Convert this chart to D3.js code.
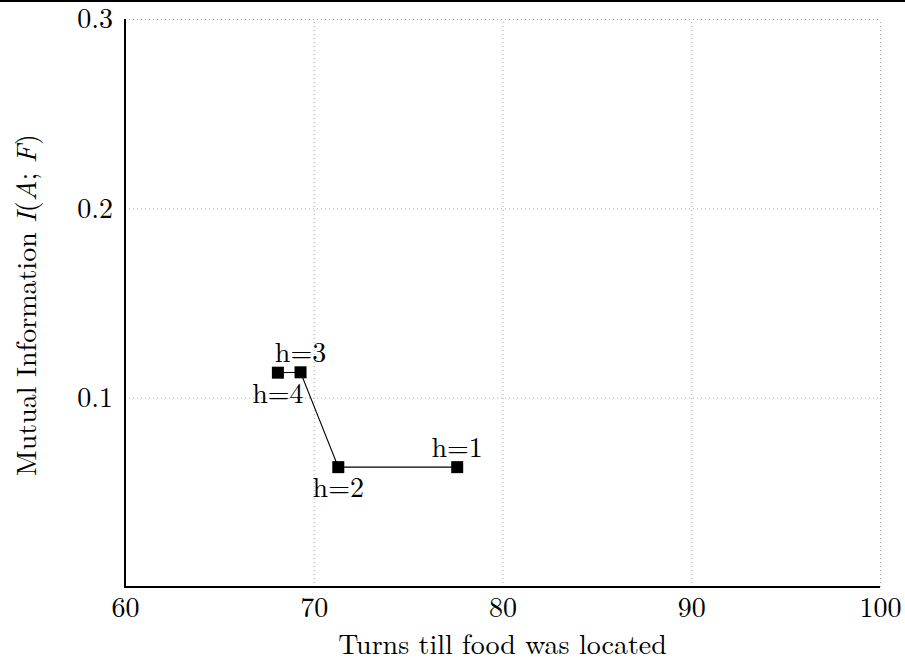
<!DOCTYPE html>
<html>
<head>
<meta charset="utf-8">
<script src="https://cdn.jsdelivr.net/npm/d3@7"></script>
<style>
  html, body { margin: 0; padding: 0; background: #fff; }
  svg text { font-family: "Latin Modern Roman", "CMU Serif", "DejaVu Serif", serif; fill: #000; }
</style>
</head>
<body>
<svg id="chart" width="905" height="662"></svg>
<script>
// History length h and the resulting search performance
const labels = ["h=1", "h=2", "h=3", "h=4"];
const turns = [77.6, 71.3, 69.3, 68.1];
const mutualInfo = [0.0633, 0.0633, 0.1134, 0.1132];
const labelSide = ["above", "below", "above", "below"];
const xTicks = [60, 70, 80, 90, 100];
const yTicks = [0.1, 0.2, 0.3];

const svg = d3.select("#chart");
const W = 905, H = 662;
const m = { left: 125, right: 25, top: 19, bottom: 75 };
const FS = 28;

const x = d3.scaleLinear().domain([60, 100]).range([m.left, W - m.right]);
const y = d3.scaleLinear().domain([0, 0.3]).range([H - m.bottom, m.top]);

// rule across the top of the page
svg.append("line").attr("x1", 0).attr("x2", W).attr("y1", 1).attr("y2", 1)
  .attr("stroke", "#000").attr("stroke-width", 2);

// dotted grid
const grid = svg.append("g").attr("stroke", "#aaa").attr("stroke-width", 1)
  .attr("stroke-dasharray", "1,3");
grid.selectAll(".gx").data(xTicks.slice(1)).join("line")
  .attr("x1", d => x(d) + 0.5).attr("x2", d => x(d) + 0.5)
  .attr("y1", y(0)).attr("y2", y(0.3));
grid.selectAll(".gy").data(yTicks).join("line")
  .attr("x1", x(60)).attr("x2", x(100))
  .attr("y1", d => y(d) + 0.5).attr("y2", d => y(d) + 0.5);

// axes
const xAxis = d3.axisBottom(x).tickValues(xTicks).tickSize(0).tickPadding(10)
  .tickFormat(d3.format("d"));
const yAxis = d3.axisLeft(y).tickValues(yTicks).tickSize(0).tickPadding(12)
  .tickFormat(d3.format(".1f"));

const gx = svg.append("g").attr("transform", `translate(0,${y(0)})`).call(xAxis);
const gy = svg.append("g").attr("transform", `translate(${x(60)},0)`).call(yAxis);
[gx, gy].forEach(g => {
  g.select(".domain").attr("stroke", "#000").attr("stroke-width", 2);
  g.selectAll("text").attr("font-size", FS);
});
gx.select(".domain").attr("d", `M${x(60) - 1},0H${x(100)}`);
gy.select(".domain").attr("d", `M0,${y(0)}V${y(0.3)}`);

// data line
const pts = turns.map((t, i) => ({ t, v: mutualInfo[i], label: labels[i], side: labelSide[i] }));
svg.append("path").datum(pts)
  .attr("fill", "none").attr("stroke", "#000").attr("stroke-width", 1.1)
  .attr("d", d3.line().x(d => x(d.t)).y(d => y(d.v)));

// square markers
const s = 12;
svg.selectAll(".mk").data(pts).join("rect")
  .attr("x", d => x(d.t) - s / 2).attr("y", d => y(d.v) - s / 2)
  .attr("width", s).attr("height", s).attr("fill", "#000");

// point labels
svg.selectAll(".lb").data(pts).join("text")
  .attr("x", d => x(d.t))
  .attr("y", d => d.side === "above" ? y(d.v) - 10 : y(d.v) + 30)
  .attr("text-anchor", "middle").attr("font-size", FS)
  .text(d => d.label);

// axis titles
svg.append("text").attr("x", x(80)).attr("y", 654).attr("text-anchor", "middle")
  .attr("font-size", FS)
  .text("Turns till food was located");

const yt = svg.append("text")
  .attr("transform", `translate(36,${y(0.15) + 2}) rotate(-90)`)
  .attr("text-anchor", "middle").attr("font-size", FS);
yt.append("tspan").text("Mutual Information ");
yt.append("tspan").attr("font-style", "italic").text("I");
yt.append("tspan").text("(");
yt.append("tspan").attr("font-style", "italic").text("A");
yt.append("tspan").text("; ");
yt.append("tspan").attr("font-style", "italic").text("F");
yt.append("tspan").text(")");
</script>
</body>
</html>
